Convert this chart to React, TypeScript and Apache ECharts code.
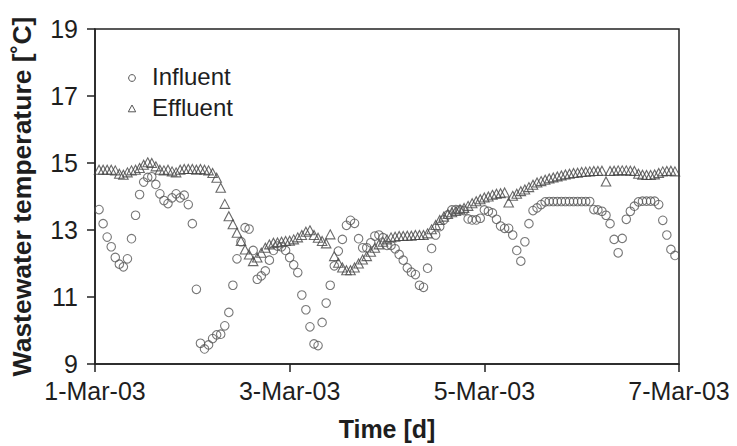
import React, { useEffect, useRef } from "react";
import * as echarts from "echarts";

// Hours since 1-Mar-03 00:00 of the first sample; samples are hourly.
const START_HOUR = 1;

const INFLUENT: number[] = [
  13.61, 13.19, 12.79, 12.5, 12.18, 11.98, 11.9, 12.14, 12.74, 13.44,
  14.06, 14.43, 14.57, 14.59, 14.36, 14.08, 13.88, 13.79, 13.96, 14.08,
  13.96, 14.04, 13.76, 13.19, 11.23, 9.62, 9.45, 9.57, 9.76, 9.87,
  9.89, 10.14, 10.54, 11.35, 12.14, 12.65, 13.07, 13.03, 12.39, 11.53,
  11.63, 11.78, 12.1, 12.39, 12.52, 12.5, 12.39, 12.18, 11.96, 11.73,
  11.06, 10.62, 10.11, 9.6, 9.55, 10.24, 10.82, 11.35, 11.93, 12.37,
  12.72, 13.14, 13.29, 13.2, 12.74, 12.47, 12.47, 12.62, 12.82, 12.85,
  12.77, 12.54, 12.54, 12.44, 12.27, 12.1, 11.87, 11.74, 11.67, 11.35,
  11.29, 11.86, 12.45, 12.85, 13.1, 13.3, 13.45, 13.6, 13.61, 13.6,
  13.58, 13.33, 13.3, 13.3, 13.35, 13.6, 13.56, 13.51, 13.32, 13.12,
  13.05, 13.05, 12.85, 12.39, 12.07, 12.65, 13.19, 13.58, 13.66, 13.76,
  13.84, 13.85, 13.85, 13.85, 13.85, 13.85, 13.85, 13.85, 13.85, 13.85,
  13.85, 13.85, 13.61, 13.6, 13.56, 13.44, 13.19, 12.72, 12.32, 12.75,
  13.32, 13.56, 13.71, 13.84, 13.86, 13.86, 13.86, 13.86, 13.76, 13.29,
  12.85, 12.42, 12.24,
];

const EFFLUENT: number[] = [
  14.8, 14.8, 14.8, 14.8, 14.78, 14.68, 14.65, 14.72, 14.78, 14.8,
  14.85, 14.95, 15.02, 15.0, 14.9, 14.8, 14.78, 14.8, 14.75, 14.72,
  14.8, 14.82, 14.82, 14.82, 14.8, 14.82, 14.8, 14.78, 14.7, 14.56,
  14.26, 13.78, 13.41, 13.17, 12.92, 12.67, 12.42, 12.27, 12.07, 12.18,
  12.32, 12.47, 12.57, 12.62, 12.63, 12.65, 12.67, 12.68, 12.72, 12.78,
  12.85, 12.95, 12.99, 12.85, 12.77, 12.67, 12.6, 12.87, 12.22, 12.02,
  11.88, 11.8, 11.8, 11.88, 12.0, 12.12, 12.22, 12.35, 12.47, 12.57,
  12.65, 12.72, 12.78, 12.8, 12.82, 12.82, 12.83, 12.83, 12.85, 12.85,
  12.85, 12.9, 13.02, 13.15, 13.3, 13.4, 13.48, 13.53, 13.57, 13.62,
  13.66, 13.72, 13.8, 13.86, 13.92, 13.97, 14.0, 14.05, 14.08, 14.1,
  14.12, 13.82, 14.02, 14.08, 14.16, 14.21, 14.28, 14.35, 14.42, 14.46,
  14.5, 14.54, 14.57, 14.6, 14.63, 14.66, 14.68, 14.7, 14.71, 14.73,
  14.74, 14.75, 14.76, 14.76, 14.77, 14.45, 14.76, 14.77, 14.78, 14.78,
  14.78, 14.77, 14.76, 14.68, 14.65, 14.64, 14.64, 14.66, 14.7, 14.75,
  14.76, 14.77, 14.75,
];

const X_TICK_HOURS = [0, 48, 96, 144];
const X_TICK_LABELS = ["1-Mar-03", "3-Mar-03", "5-Mar-03", "7-Mar-03"];
const Y_MIN = 9;
const Y_MAX = 19;
const Y_STEP = 2;

const SERIES_NAMES = ["Influent", "Effluent"];

export default function App() {
  const ref = useRef<HTMLDivElement>(null);

  useEffect(() => {
    if (!ref.current) return;
    const chart = echarts.init(ref.current, null, { renderer: "svg" });
    const toPoints = (arr: number[]) => arr.map((v, i) => [START_HOUR + i, v]);
    const textColor = "#1e1e1e";
    const font = "'Liberation Sans', Arial, Helvetica, sans-serif";

    chart.setOption({
      animation: false,
      backgroundColor: "#ffffff",
      textStyle: { fontFamily: font },
      grid: {
        left: 93,
        right: 58,
        top: 29,
        bottom: 81,
        show: true,
        borderColor: "#222",
        borderWidth: 1.5,
        backgroundColor: "transparent",
      },
      xAxis: {
        type: "value",
        min: X_TICK_HOURS[0],
        max: X_TICK_HOURS[X_TICK_HOURS.length - 1],
        interval: X_TICK_HOURS[1] - X_TICK_HOURS[0],
        name: "Time [d]",
        nameLocation: "middle",
        nameGap: 52,
        nameTextStyle: { fontSize: 25, fontWeight: "bold", color: textColor, fontFamily: font },
        axisLine: { show: true, lineStyle: { color: "#222", width: 1.5 } },
        axisTick: { show: true, length: 8, lineStyle: { color: "#222", width: 1.5 } },
        splitLine: { show: false },
        axisLabel: {
          fontSize: 25,
          color: textColor,
          margin: 14,
          fontFamily: font,
          formatter: (v: number) => {
            const i = X_TICK_HOURS.indexOf(v);
            return i >= 0 ? X_TICK_LABELS[i] : "";
          },
        },
      },
      yAxis: {
        type: "value",
        min: Y_MIN,
        max: Y_MAX,
        interval: Y_STEP,
        name: "Wastewater temperature [˚C]",
        nameLocation: "middle",
        nameGap: 60,
        nameRotate: 90,
        nameTextStyle: { fontSize: 26.5, fontWeight: "bold", color: textColor, fontFamily: font },
        axisLine: { show: true, lineStyle: { color: "#222", width: 1.5 } },
        axisTick: { show: true, length: 8, lineStyle: { color: "#222", width: 1.5 } },
        splitLine: { show: false },
        axisLabel: { fontSize: 25, color: textColor, margin: 17, fontFamily: font },
      },
      graphic: [
        { type: "circle", shape: { cx: 132, cy: 78, r: 3.4 }, style: { fill: "none", stroke: "#555", lineWidth: 1 } },
        { type: "polygon", shape: { points: [[132, 105], [128.3, 111.8], [135.7, 111.8]] }, style: { fill: "none", stroke: "#555", lineWidth: 1 } },
        { type: "text", left: 152, top: 64, style: { text: SERIES_NAMES[0], fontSize: 24, fill: textColor, fontFamily: font } },
        { type: "text", left: 152, top: 95, style: { text: SERIES_NAMES[1], fontSize: 24, fill: textColor, fontFamily: font } },
      ],
      series: [
        {
          name: SERIES_NAMES[1],
          type: "scatter",
          symbol: "triangle",
          symbolSize: [9.5, 9],
          data: toPoints(EFFLUENT),
          itemStyle: { color: "rgba(255,255,255,0)", borderColor: "#444", borderWidth: 1.1 },
          emphasis: { disabled: true },
        },
        {
          name: SERIES_NAMES[0],
          type: "scatter",
          symbol: "circle",
          symbolSize: 8.5,
          data: toPoints(INFLUENT),
          itemStyle: { color: "rgba(255,255,255,0)", borderColor: "#555", borderWidth: 1.1 },
          emphasis: { disabled: true },
        },
      ],
    });
    return () => chart.dispose();
  }, []);

  return (
    <div
      ref={ref}
      style={{ position: "fixed", left: 0, top: 0, width: 737, height: 446, background: "#fff" }}
    />
  );
}
